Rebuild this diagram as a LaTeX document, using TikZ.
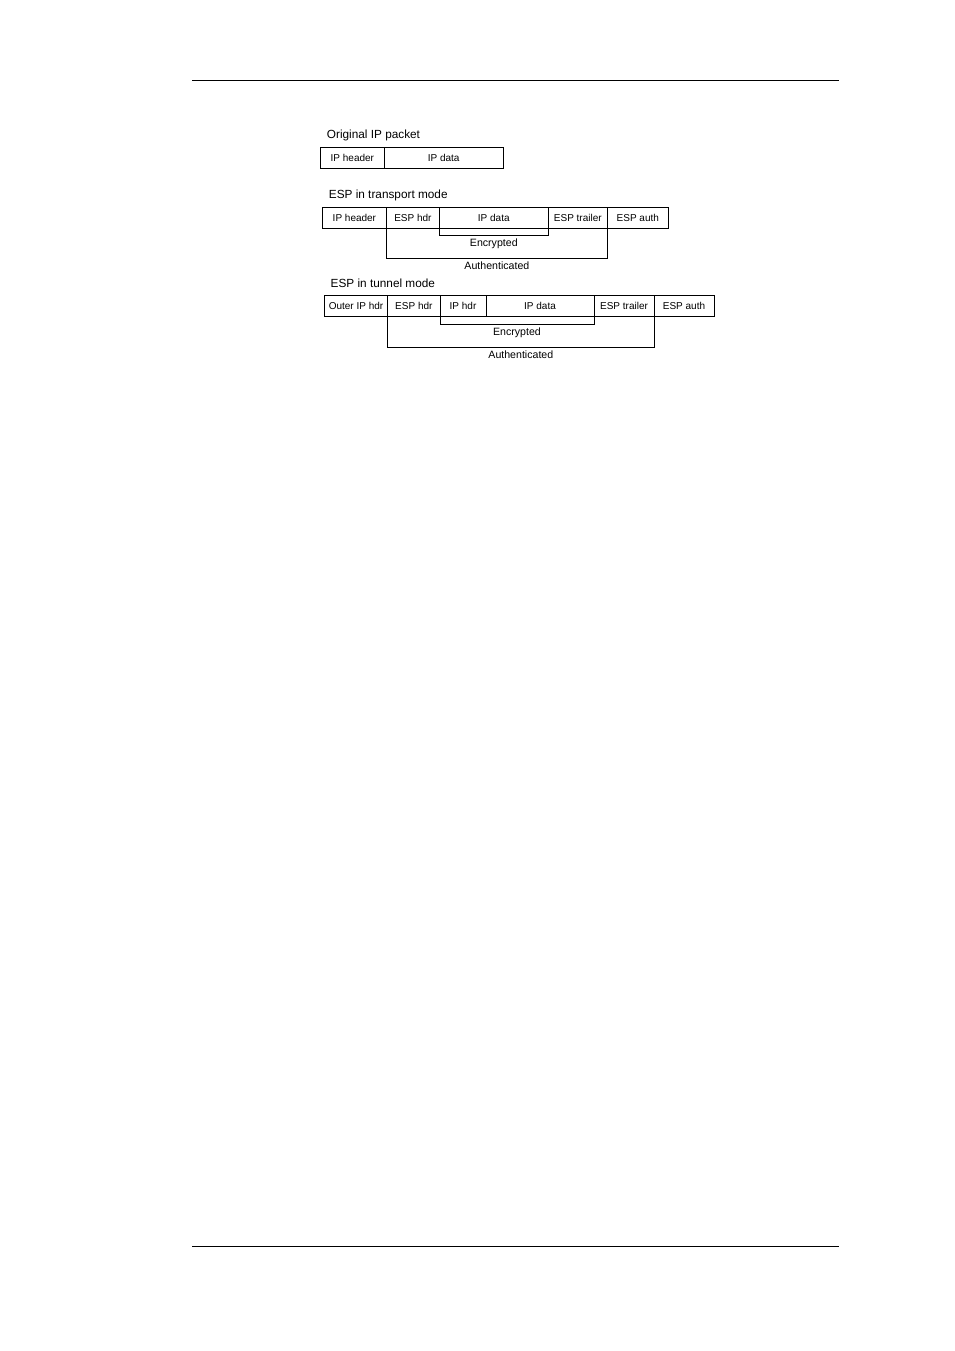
\documentclass[tikz,border=0pt]{standalone}
\usepackage{fontspec}
\setmainfont{Liberation Sans}
\usetikzlibrary{positioning}
\tikzset{
	fld/.style={draw, line width=0.8pt, inner sep=0pt, outer sep=0pt, minimum height=21pt, font=\fontsize{10}{10}\selectfont},
	ttl/.style={anchor=base west, inner sep=0pt, font=\fontsize{11.8}{12}\selectfont},
	brk/.style={line width=0.8pt},
	lbl/.style={below=3pt, inner sep=0pt, font=\fontsize{10.6}{11}\selectfont}
}

\begin{document}
\begin{tikzpicture}[x=1pt, y=-1pt]
			%%%%% START %%%%%
			\useasboundingbox (0, 0) rectangle (954, 1351);
			
			\draw[line width=1pt] (192, 80.3) -- (839, 80.3);
			\draw[line width=1pt] (192, 1246.3) -- (839, 1246.3);
			
			% original packet
			\node[ttl] (origttl) at (326.7, 138.7) {Original IP packet};
			\node[fld, minimum width=63.3pt, minimum height=21.5pt, anchor=north west] (orighdr) at (320.7, 147) {IP header};
			\node[fld, minimum width=119.3pt, minimum height=21.5pt, right=0pt of orighdr] (origdata) {IP data};
			
			% transport mode
			\node[ttl] (transttl) at (328.7, 198.7) {ESP in transport mode};
			\node[fld, minimum width=64.2pt, anchor=north west] (transhdr) at (322.3, 207.5) {IP header};
			\node[fld, minimum width=52.8pt, right=0pt of transhdr] (transesp) {ESP hdr};
			\node[fld, minimum width=109pt, right=0pt of transesp] (transdata) {IP data};
			\node[fld, minimum width=59pt, right=0pt of transdata] (transtrail) {ESP trailer};
			\node[fld, minimum width=61pt, right=0pt of transtrail] (transauth) {ESP auth};
			
			\draw[brk] (transdata.south west) -- ++(0, 6.8) -| (transdata.south east) node[lbl, pos=0.25] (transenc) {Encrypted};
			\draw[brk] (transesp.south west) -- ++(0, 29.8) -| (transtrail.south east) node[lbl, pos=0.25] (transauthd) {Authenticated};
			
			% tunnel mode
			\node[ttl] (tunttl) at (330.5, 287.7) {ESP in tunnel mode};
			\node[fld, minimum width=63.4pt, anchor=north west] (tunouter) at (324.3, 295.7) {Outer IP hdr};
			\node[fld, minimum width=52.3pt, right=0pt of tunouter] (tunesp) {ESP hdr};
			\node[fld, minimum width=46pt, right=0pt of tunesp] (tunhdr) {IP hdr};
			\node[fld, minimum width=108pt, right=0pt of tunhdr] (tundata) {IP data};
			\node[fld, minimum width=60pt, right=0pt of tundata] (tuntrail) {ESP trailer};
			\node[fld, minimum width=60pt, right=0pt of tuntrail] (tunauth) {ESP auth};
			
			\draw[brk] (tunhdr.south west) -- ++(0, 7.6) -| (tundata.south east) node[lbl, pos=0.25] (tunenc) {Encrypted};
			\draw[brk] (tunesp.south west) -- ++(0, 30.6) -| (tuntrail.south east) node[lbl, pos=0.25] (tunauthd) {Authenticated};
			
			%%%%% END %%%%%
\end{tikzpicture}
\end{document}
